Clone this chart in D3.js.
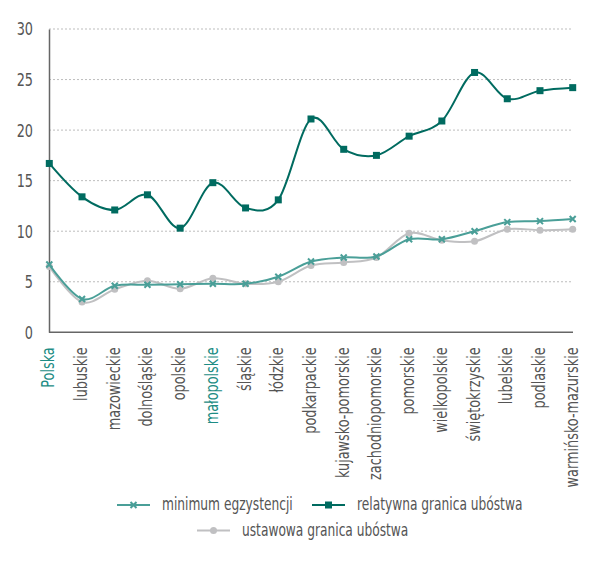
<!DOCTYPE html>
<html><head><meta charset="utf-8">
<script src="https://cdn.jsdelivr.net/npm/d3@7"></script>
<style>
body{margin:0;background:#fff;}
svg text{font-family:"DejaVu Sans Condensed","Liberation Sans Narrow",sans-serif;}
</style></head>
<body><svg id="c" width="604" height="567"></svg>
<script>
const categories = ["Polska","lubuskie","mazowieckie","dolnośląskie","opolskie","małopolskie","śląskie","łódzkie","podkarpackie","kujawsko-pomorskie","zachodniopomorskie","pomorskie","wielkopolskie","świętokrzyskie","lubelskie","podlaskie","warmińsko-mazurskie"];
const highlighted = ["Polska","małopolskie"];
const minimumEgzystencji = [6.7,3.3,4.6,4.7,4.75,4.8,4.8,5.5,7.0,7.4,7.5,9.2,9.2,10.0,10.9,11.0,11.2];
const relatywnaGranica = [16.7,13.4,12.1,13.6,10.3,14.8,12.3,13.1,21.1,18.1,17.5,19.4,20.9,25.7,23.1,23.9,24.2];
const ustawowaGranica = [6.5,3.0,4.25,5.1,4.3,5.35,4.8,5.0,6.6,6.9,7.4,9.8,9.1,9.0,10.2,10.1,10.2];
const yTicks = [0,5,10,15,20,25,30];
const seriesNames = ["minimum egzystencji","relatywna granica ubóstwa","ustawowa granica ubóstwa"];

const svg = d3.select("#c");
const x = d3.scalePoint().domain(categories).range([49.3,572.7]);
const y = d3.scaleLinear().domain([0,30]).range([332.3,29]);

const cLight="#4a9f98", cDark="#006b60", cGray="#c0c0c2", cText="#555";
const sx = 0.84; // horizontal condensing to mimic condensed typeface

// gridlines
svg.append("g").selectAll("line").data(yTicks.filter(d=>d>0)).join("line")
  .attr("x1",49).attr("x2",573).attr("y1",d=>y(d)).attr("y2",d=>y(d))
  .attr("stroke","#bdbdbd").attr("stroke-width",1).attr("stroke-dasharray","2,2");

// y axis
const ya = svg.append("g").attr("transform","translate(49,0)").call(d3.axisLeft(y).tickValues(yTicks).tickSize(0));
ya.select(".domain").attr("stroke","#666").attr("stroke-width",1.5);
ya.selectAll(".tick text").attr("font-size",17).attr("fill",cText).attr("dy","0.35em")
  .attr("x",0).attr("transform",`translate(-16,0) scale(${sx},1)`);

// x axis
const xa = svg.append("g").attr("transform","translate(0,332.3)").call(d3.axisBottom(x).tickSize(0).tickPadding(0));
xa.select(".domain").attr("stroke","#666").attr("stroke-width",1.5).attr("d","M49,0H573");
xa.selectAll(".tick text")
  .attr("font-size",17)
  .attr("fill",d=>highlighted.includes(d)?"#1d8c84":cText)
  .attr("text-anchor","end")
  .attr("transform",`translate(-1.5,15) rotate(-90) scale(${sx},1)`)
  .attr("dy","0.35em").attr("x",0).attr("y",0);

const line = d3.line().x((d,i)=>x(categories[i])).y(d=>y(d)).curve(d3.curveCardinal.tension(0));

function drawSeries(vals,color,w,marker){
  svg.append("path").attr("d",line(vals)).attr("fill","none").attr("stroke",color).attr("stroke-width",w);
  const g = svg.append("g");
  vals.forEach((v,i)=>{ marker(g, x(categories[i]), y(v)); });
}
const sq = (col)=>(g,cx,cy)=>g.append("rect").attr("x",cx-3.5).attr("y",cy-3.5).attr("width",7).attr("height",7).attr("fill",col);
const circ = (col)=>(g,cx,cy)=>g.append("circle").attr("cx",cx).attr("cy",cy).attr("r",3.5).attr("fill",col);
const cross = (col)=>(g,cx,cy)=>g.append("path").attr("d",`M${cx-3},${cy-3}L${cx+3},${cy+3}M${cx-3},${cy+3}L${cx+3},${cy-3}`).attr("stroke",col).attr("stroke-width",2);

drawSeries(ustawowaGranica,cGray,2,circ(cGray));
drawSeries(minimumEgzystencji,cLight,2,cross(cLight));
drawSeries(relatywnaGranica,cDark,2,sq(cDark));

// legend
const legend = [
  {name:seriesNames[0],color:cLight,m:cross(cLight),x1:117,y:505},
  {name:seriesNames[1],color:cDark,m:sq(cDark),x1:312,y:505},
  {name:seriesNames[2],color:cGray,m:circ(cGray),x1:197,y:530.5}
];
const lg = svg.append("g");
legend.forEach(l=>{
  lg.append("line").attr("x1",l.x1).attr("x2",l.x1+33).attr("y1",l.y).attr("y2",l.y).attr("stroke",l.color).attr("stroke-width",2);
  l.m(lg,l.x1+16.5,l.y);
  lg.append("text").attr("transform",`translate(${l.x1+45},${l.y}) scale(0.8,1)`)
    .attr("dy","0.32em").attr("font-size",17).attr("fill",cText).text(l.name);
});
</script></body></html>
